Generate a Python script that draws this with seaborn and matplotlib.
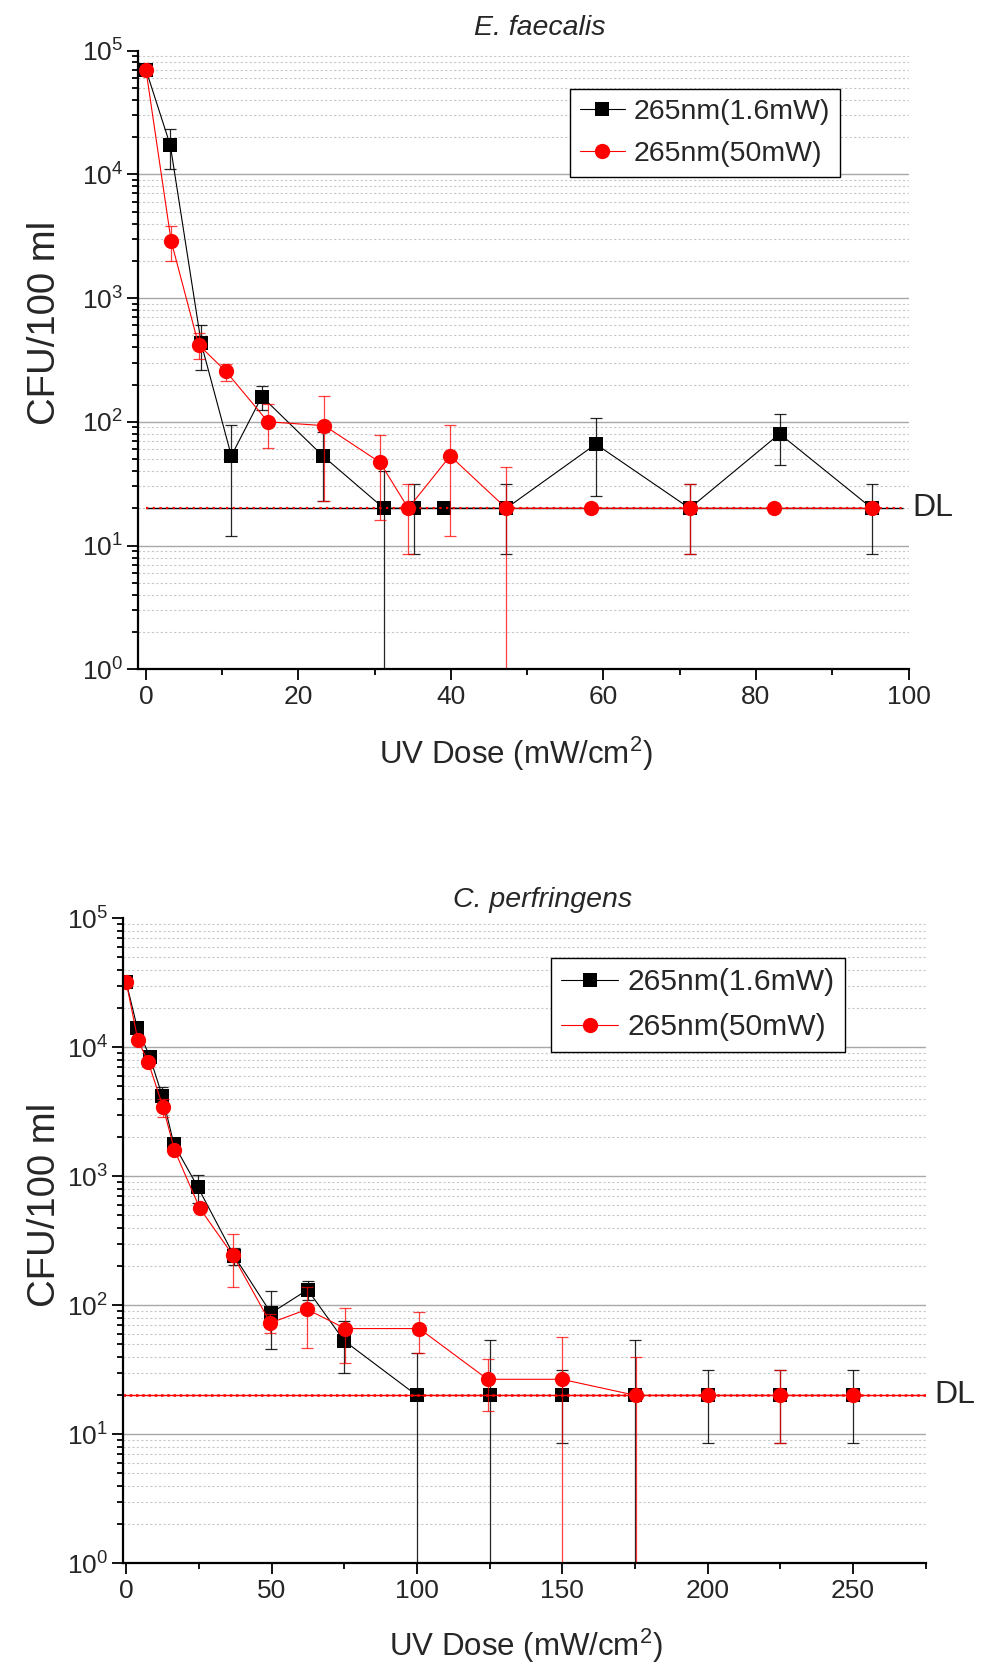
import numpy as np
import pandas as pd
import matplotlib
matplotlib.use("Agg")
import matplotlib.pyplot as plt
import matplotlib.transforms as mtransforms
import seaborn as sns
from matplotlib.ticker import LogLocator, NullFormatter, MultipleLocator

# ---------------- data ----------------
# E. faecalis
ef_dose_low = [0, 3.2, 7.25, 11.2, 15.2, 23.2, 31.2, 35.2, 39.1, 47.25, 59.0, 71.3, 83.1, 95.2]
ef_cfu_low = [70000, 17100, 430, 53, 160, 53, 20, 20, 20, 20, 66, 20, 80, 20]
ef_err_low = [0, 6100, 170, 41, 35, 30, 20, 11.5, 0, 11.5, 41, 11.5, 35, 11.5]

ef_dose_high = [0, 3.3, 6.9, 10.5, 16.0, 23.4, 30.7, 34.4, 39.9, 47.25, 58.4, 71.3, 82.4, 95.2]
ef_cfu_high = [70000, 2900, 420, 255, 100, 93, 47, 20, 53, 20, 20, 20, 20, 20]
ef_err_high = [0, 900, 100, 40, 39, 70, 31, 11.5, 41, 23, 0, 11.5, 0, 0]

# C. perfringens
cp_dose_low = [0, 3.8, 8.1, 12.4, 16.4, 24.7, 37.2, 49.8, 62.4, 75.0, 100, 125, 150, 175, 200, 225, 250]
cp_cfu_low = [32000, 14200, 8450, 4200, 1770, 820, 240, 87, 132, 53, 20, 20, 20, 20, 20, 20, 20]
cp_err_low = [0, 0, 0, 760, 0, 200, 36, 41, 22, 23, 23, 34, 11.5, 34, 11.5, 11.5, 11.5]

cp_dose_high = [0, 4.0, 7.6, 12.7, 16.6, 25.3, 36.6, 49.6, 62.2, 75.4, 100.8, 124.3, 149.8, 175.4, 200, 225, 250]
cp_cfu_high = [32000, 11400, 7650, 3430, 1600, 565, 246, 73, 93, 66, 66, 26.7, 26.7, 20, 20, 20, 20]
cp_err_high = [0, 0, 0, 540, 0, 0, 108, 12, 46, 30, 23, 11.5, 30, 20, 0, 11.5, 0]

DL = 20
labels = ["265nm(1.6mW)", "265nm(50mW)"]
titles = ["E. faecalis", "C. perfringens"]
ytick_vals = [1, 10, 100, 1000, 10000, 100000]

# ---------------- style ----------------
sns.set_style("white")
plt.rcParams["font.family"] = ["Liberation Sans", "DejaVu Sans"]
plt.rcParams["mathtext.fontset"] = "custom"
plt.rcParams["mathtext.rm"] = "Liberation Sans"
plt.rcParams["mathtext.it"] = "Liberation Sans:italic"
plt.rcParams["mathtext.default"] = "regular"

W, H = 984, 1670
fig = plt.figure(figsize=(W / 100, H / 100), dpi=100)
fig.patch.set_facecolor("white")


def fx(px):
    return px / W


def fy(py):
    return 1 - py / H


ax1 = fig.add_axes([fx(138.3), fy(669.3), fx(908.5 - 138.3), (669.3 - 50.5) / H])
ax2 = fig.add_axes([fx(123.3), fy(1563.3), fx(925.7 - 123.3), (1563.3 - 918.3) / H])

panels = [
    dict(ax=ax1, xlim=(-1, 100), major=20, minor=10,
         low=(ef_dose_low, ef_cfu_low, ef_err_low),
         high=(ef_dose_high, ef_cfu_high, ef_err_high),
         dl_span=(0, 99.3), leg_anchor=(fx(840), fy(89)), leg_fs=20.5, leg_hl=1.6,
         title_pos=(fx(540), fy(35)), xlabel_pos=(fx(516), fy(754)), ylabel_y=fy(323),
         dl_x=fx(912)),
    dict(ax=ax2, xlim=(-1, 275), major=50, minor=25,
         low=(cp_dose_low, cp_cfu_low, cp_err_low),
         high=(cp_dose_high, cp_cfu_high, cp_err_high),
         dl_span=None, leg_anchor=(fx(845), fy(958)), leg_fs=21.6, leg_hl=1.9,
         title_pos=(fx(543), fy(906.7)), xlabel_pos=(fx(526), fy(1646)), ylabel_y=fy(1205),
         dl_x=fx(934)),
]

for i, p in enumerate(panels):
    ax = p["ax"]
    ax.set_facecolor("white")
    ax.set_yscale("log", nonpositive="clip")
    ax.set_ylim(1, 1e5)
    ax.set_xlim(*p["xlim"])

    # gridlines
    for k in range(1, 5):
        ax.axhline(10 ** k, color="#a8a8a8", lw=1.0, zorder=0.5)
    for k in range(0, 5):
        for m in range(2, 10):
            ax.axhline(m * 10 ** k, color="#c8c8c8", lw=0.8, ls=(0, (2, 2)), zorder=0.4)

    # black series
    d, c, e = p["low"]
    df = pd.DataFrame({"dose": d, "cfu": c, "err": e})
    de = df[df.err > 0]
    ax.errorbar(de.dose, de.cfu, yerr=de.err, fmt="none", ecolor="black", elinewidth=0.9,
                capsize=4.5, capthick=0.9, alpha=0.85, zorder=2)
    sns.lineplot(data=df, x="dose", y="cfu", ax=ax, color="black", marker="s",
                 markersize=9.5, markeredgewidth=0, linewidth=0.8, label=labels[0],
                 sort=False, errorbar=None, zorder=3)

    # detection limit line
    if p["dl_span"] is not None:
        ax.hlines(DL, *p["dl_span"], color="black", lw=1.0, zorder=3.5)
        ax.hlines(DL, *p["dl_span"], color="red", lw=1.6, ls=(0, (1, 2)), zorder=4)
    else:
        ax.axhline(DL, color="red", lw=1.0, zorder=3.5)
        ax.axhline(DL, color="red", lw=1.8, ls=(0, (1, 1.5)), zorder=4)

    # red series
    d, c, e = p["high"]
    df = pd.DataFrame({"dose": d, "cfu": c, "err": e})
    de = df[df.err > 0]
    ax.errorbar(de.dose, de.cfu, yerr=de.err, fmt="none", ecolor="red", elinewidth=0.9,
                capsize=4.5, capthick=0.9, alpha=0.75, zorder=4.5)
    sns.lineplot(data=df, x="dose", y="cfu", ax=ax, color="red", marker="o",
                 markersize=11, markeredgewidth=0, linewidth=0.8, label=labels[1],
                 sort=False, errorbar=None, zorder=5)

    # axes styling
    for s in ["top", "right"]:
        ax.spines[s].set_visible(False)
    for s in ["left", "bottom"]:
        ax.spines[s].set_linewidth(1.6)
        ax.spines[s].set_color("black")
        ax.spines[s].set_zorder(6)
    ax.set_yticks(ytick_vals)
    ax.yaxis.set_minor_locator(LogLocator(base=10, subs=range(2, 10), numticks=20))
    ax.yaxis.set_minor_formatter(NullFormatter())
    ax.xaxis.set_major_locator(MultipleLocator(p["major"]))
    ax.xaxis.set_minor_locator(MultipleLocator(p["minor"]))
    ax.tick_params(which="major", direction="out", length=8, width=1.3, color="black",
                   labelsize=19, pad=3, left=True, bottom=True)
    ax.tick_params(which="minor", direction="out", length=4, width=1.3, color="black",
                   left=True, bottom=True)
    ax.set_xlabel("")
    ax.set_ylabel("")

    leg = ax.legend(loc="upper right", bbox_to_anchor=p["leg_anchor"],
                    bbox_transform=fig.transFigure, frameon=True, fancybox=False,
                    edgecolor="black", framealpha=1, fontsize=p["leg_fs"],
                    handlelength=p["leg_hl"], handletextpad=0.3, borderpad=0.35,
                    labelspacing=0.55, borderaxespad=0)
    leg.get_frame().set_linewidth(1.0)

    fig.text(p["title_pos"][0], p["title_pos"][1], titles[i], style="italic",
             fontsize=20.5, ha="center", va="baseline")
    fig.text(p["xlabel_pos"][0], p["xlabel_pos"][1], "UV Dose (mW/cm$^2$)",
             fontsize=22.5, ha="center", va="center")
    fig.text(fx(45), p["ylabel_y"], "CFU/100 ml", fontsize=27.5, rotation=90,
             ha="center", va="center")
    ax.text(p["dl_x"], DL, "DL",
            transform=mtransforms.blended_transform_factory(fig.transFigure, ax.transData),
            fontsize=23, ha="left", va="center")

fig.savefig("out.png", dpi=100)
